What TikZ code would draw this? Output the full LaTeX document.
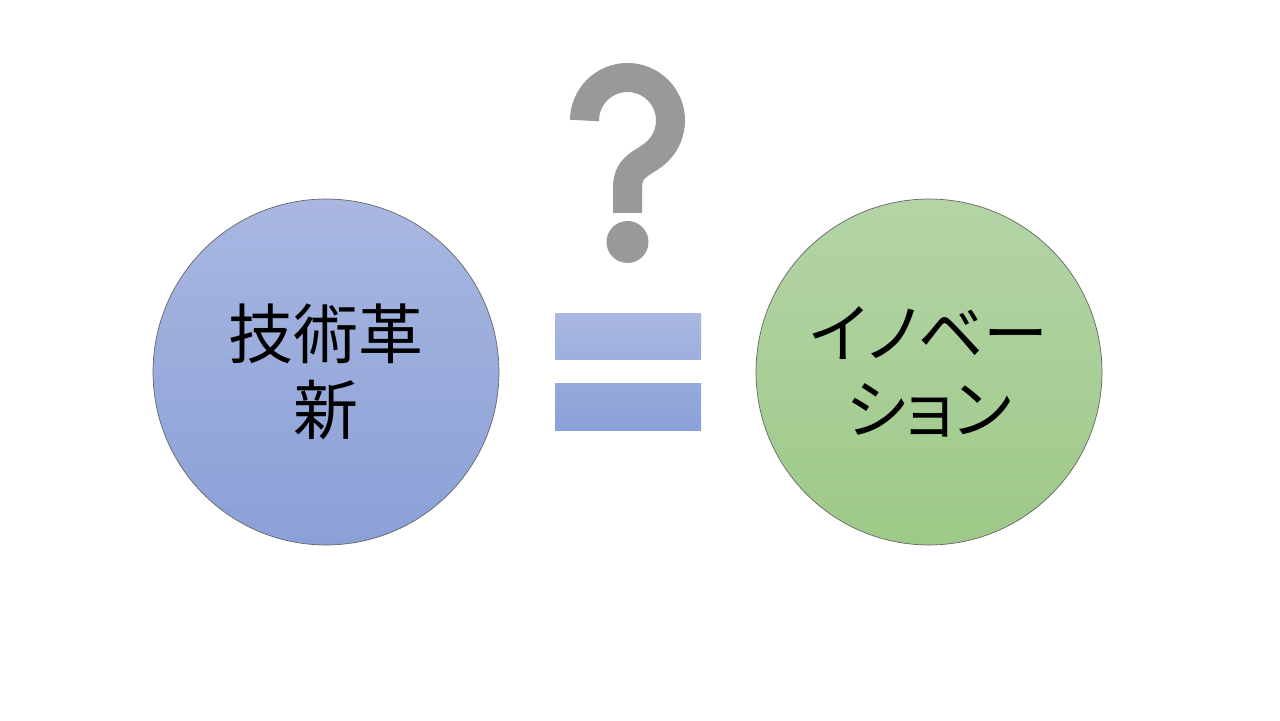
\documentclass[tikz,border=0pt]{standalone}
\usepackage{fontspec}
\newfontfamily\jpfont{Noto Sans CJK JP}
\newfontfamily\kanafont[RawFeature=+palt]{Noto Sans CJK JP}
\definecolor{bluetop}{HTML}{A9B7E1}
\definecolor{bluebot}{HTML}{8AA0D7}
\definecolor{greentop}{HTML}{B4D4A6}
\definecolor{greenbot}{HTML}{9EC988}
\definecolor{qgray}{HTML}{999999}
\tikzset{
  bubble/.style={circle, draw=black!60, line width=0.4pt, minimum size=6.92cm,
    inner sep=0pt, align=center, font=\jpfont\fontsize{37}{43}\selectfont},
  bar/.style={draw=none}
}
\begin{document}
\begin{tikzpicture}[x=0.02cm, y=0.02cm]
  % page frame
  \useasboundingbox[fill=white] (0,0) rectangle (1280,720);

  % the two circles
  \node[bubble, top color=bluetop, bottom color=bluebot] (tech) at (326,348) {技術革\\新};
  \node[bubble, top color=greentop, bottom color=greenbot,
    font=\kanafont\fontsize{37}{43}\selectfont] (inno) at (929,348) {イノベー\\ション};

  % equals sign
  \shade[bar, top color=bluetop, bottom color=bluetop!65!bluebot] (555,360) rectangle (701,406);
  \shade[bar, top color=bluetop!40!bluebot, bottom color=bluebot] (555,289) rectangle (701,336);

  % question mark
  \draw[qgray, line width=0.58cm, line cap=butt]
    (584.5,599.5) arc[start angle=180, end angle=-45, radius=43]
    .. controls (645,556) and (627.5,556) .. (627.5,532) -- (627.5,507);
  \fill[qgray] (627.5,478) circle (21);
\end{tikzpicture}
\end{document}
